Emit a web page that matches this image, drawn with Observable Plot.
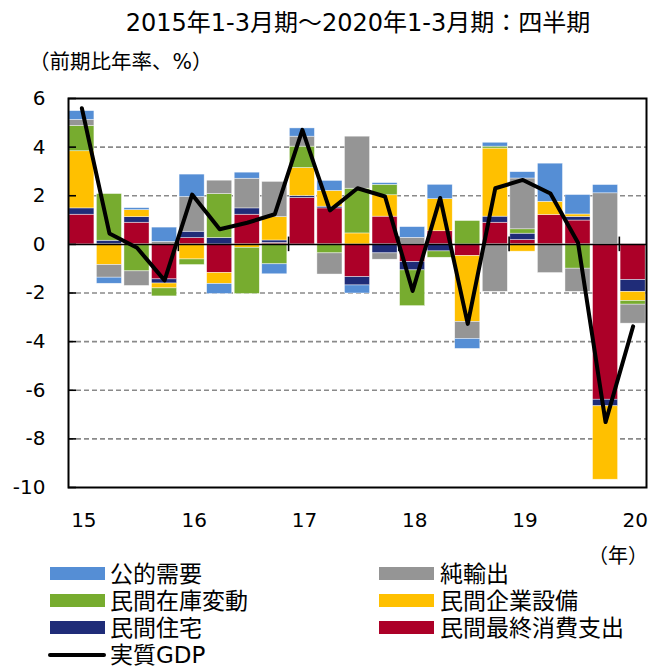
<!DOCTYPE html>
<html><head><meta charset="utf-8">
<script src="https://cdn.jsdelivr.net/npm/d3@7"></script>
<script src="https://cdn.jsdelivr.net/npm/@observablehq/plot@0.6"></script>
<style>
body{margin:0;background:#fff;}
#wrap{position:relative;width:649px;height:667px;overflow:hidden;font-family:"DejaVu Sans","Noto Sans CJK JP",sans-serif;color:#000;}
.abs{position:absolute;white-space:nowrap;}
#title{left:0;width:649px;top:8px;font-size:24px;line-height:30px;text-align:center;padding-left:67px;box-sizing:border-box;}
#ylab{left:29px;top:50px;font-size:20.5px;line-height:24px;}
#yearlab{right:1px;top:544px;font-size:20px;line-height:24px;}
#chart{position:absolute;left:0;top:60px;}
.lg{position:absolute;font-size:23px;line-height:27px;white-space:nowrap;}
.sw{position:absolute;width:55px;height:13px;}
.ln{position:absolute;width:58px;height:4px;border-radius:2px;background:#000;}
</style></head>
<body>
<div id="wrap">
  <div id="title" class="abs">2015年1-3月期～2020年1-3月期：四半期</div>
  <div id="ylab" class="abs">（前期比年率、%）</div>
  <div id="chart"></div>
  <div id="yearlab" class="abs">（年）</div>
  <div id="legend"></div>
</div>
<script>
// ---- data ----
const quarters = ["2015Q1","2015Q2","2015Q3","2015Q4","2016Q1","2016Q2","2016Q3","2016Q4",
  "2017Q1","2017Q2","2017Q3","2017Q4","2018Q1","2018Q2","2018Q3","2018Q4",
  "2019Q1","2019Q2","2019Q3","2019Q4","2020Q1"];
const yearStarts = ["2015Q1","2016Q1","2017Q1","2018Q1","2019Q1","2020Q1"];
const yearLabels = ["15","16","17","18","19","20"];
const yTicks = [-10,-8,-6,-4,-2,0,2,4,6];
const gridTicks = [-8,-6,-4,-2,2,4];

const seriesNames = ["民間最終消費支出","民間住宅","民間企業設備","民間在庫変動","純輸出","公的需要"];
const seriesColors = ["#ac0028","#1f2c78","#ffc000","#77ac2f","#959595","#558ed5"];

const consumption = [1.22, 0, 0.89, -1.44, 0.26, -1.18, 1.22, 0.06, 1.91, 1.48, -1.35, 1.14, -0.73, 0.54, -0.48, 0.89, 0.18, 1.21, 0.98, -6.39, -1.47];
const housing     = [0.26, 0.15, 0.23, -0.17, 0.26, 0.26, 0.26, 0.10, 0.08, 0.07, -0.34, -0.37, -0.34, -0.29, 0, 0.25, 0.26, 0, 0.15, -0.27, -0.49];
const investment  = [2.35, -0.85, 0.29, -0.2, -0.62, -0.45, -0.14, 0.96, 1.15, 0.65, 0.45, 0.88, 0, 1.32, -2.71, 2.8, -0.3, 0.54, 0.1, -3.02, -0.37];
const inventory   = [1.04, 1.92, -1.11, -0.33, -0.23, 1.81, -1.9, -0.82, 0.88, -0.37, 1.84, 0.43, -1.47, -0.26, 0.96, 0.08, 0.18, 0, -1.0, 0, -0.15];
const netExports  = [0.25, -0.52, -0.6, 0.1, 1.43, 0.55, 1.22, 1.45, 0.41, -0.87, 2.14, -0.26, 0.27, 0, -0.70, -1.95, 2.09, -1.18, -0.95, 2.10, -0.78];
const publicDemand= [0.36, -0.25, 0.08, 0.59, 0.92, -0.41, 0.25, -0.41, 0.34, 0.41, -0.33, 0.07, 0.44, 0.59, -0.41, 0.16, 0.26, 1.57, 0.8, 0.34, 0];
const realGDP     = [5.6, 0.45, -0.14, -1.48, 2.05, 0.62, 0.89, 1.24, 4.71, 1.40, 2.31, 1.97, -1.92, 1.91, -3.27, 2.31, 2.65, 2.09, 0.07, -7.31, -3.37];

const legendLeft = [["公的需要","#558ed5"],["民間在庫変動","#77ac2f"],["民間住宅","#1f2c78"]];
const legendRight = [["純輸出","#959595"],["民間企業設備","#ffc000"],["民間最終消費支出","#ac0028"]];
const legendLine = "実質GDP";

// ---- build tables ----
const seriesValues = [consumption, housing, investment, inventory, netExports, publicDemand];
const rows = [];
seriesNames.forEach((s, i) => quarters.forEach((q, j) => rows.push({q, s, v: seriesValues[i][j]})));
const gdpRows = quarters.map((q, i) => ({q, v: realGDP[i]}));

const W = 649, H = 510, mL = 68, mR = 3, mT = 38, mB = 83;
const pIn = 0.09, pOut = 0.03;
const step = (W - mL - mR) / (quarters.length - pIn + 2 * pOut);
const boundaryYears = yearStarts.slice(1);

const chart = Plot.plot({
  width: W, height: H,
  marginLeft: mL, marginRight: mR, marginTop: mT, marginBottom: mB,
  style: {fontFamily: '"DejaVu Sans","Noto Sans CJK JP",sans-serif', fontSize: "20px", background: "transparent", color: "#000", overflow: "visible"},
  x: {domain: quarters, paddingInner: pIn, paddingOuter: pOut, round: false, axis: null, label: null},
  y: {domain: [-10, 6], axis: null, label: null},
  color: {domain: seriesNames, range: seriesColors},
  marks: [
    Plot.ruleY(gridTicks, {stroke: "#8a8a8a", strokeWidth: 1.6, strokeDasharray: "5,3"}),
    Plot.barY(rows, {x: "q", y: "v", z: "s", fill: "s", order: seriesNames, stroke: "#ffffff", strokeWidth: 0.6, strokeOpacity: 0.7}),
    Plot.ruleY([0], {stroke: "#000", strokeWidth: 1.5}),
    Plot.ruleX(boundaryYears, {x: d => d, y1: -0.3, y2: 0.3, dx: -step / 2, stroke: "#000", strokeWidth: 1.6}),
    Plot.line(gdpRows, {x: "q", y: "v", stroke: "#000", strokeWidth: 4, strokeLinejoin: "round", strokeLinecap: "round"}),
    Plot.axisY(yTicks, {anchor: "left", label: null, tickSize: -8, tickPadding: 31, tickFormat: d => String(d), fontSize: 20, strokeWidth: 1.6}),
    Plot.axisX(yearStarts, {anchor: "bottom", label: null, tickSize: 0, tickPadding: 25, tickFormat: d => yearLabels[yearStarts.indexOf(d)], fontSize: 20, dx: 2}),
    Plot.frame({stroke: "#000", strokeWidth: 2})
  ]
});
document.getElementById("chart").appendChild(chart);

// ---- legend ----
const lg = document.getElementById("legend");
const rowCenters = [573.5, 600.5, 627.5, 655];
function addItem(label, color, col, r) {
  const sx = col === 0 ? 50 : 379, tx = col === 0 ? 110 : 440;
  const sw = document.createElement("div");
  sw.className = "sw"; sw.style.left = sx + "px"; sw.style.top = (rowCenters[r] - 6.5) + "px"; sw.style.background = color;
  lg.appendChild(sw);
  const t = document.createElement("div");
  t.className = "lg"; t.style.left = tx + "px"; t.style.top = (rowCenters[r] - 12.7) + "px"; t.textContent = label;
  lg.appendChild(t);
}
legendLeft.forEach(([l, c], r) => addItem(l, c, 0, r));
legendRight.forEach(([l, c], r) => addItem(l, c, 1, r));
const ln = document.createElement("div");
ln.className = "ln"; ln.style.left = "48px"; ln.style.top = (rowCenters[3] - 2) + "px";
lg.appendChild(ln);
const lt = document.createElement("div");
lt.className = "lg"; lt.style.left = "110px"; lt.style.top = (rowCenters[3] - 12.7) + "px"; lt.textContent = legendLine;
lg.appendChild(lt);
</script>
</body></html>
